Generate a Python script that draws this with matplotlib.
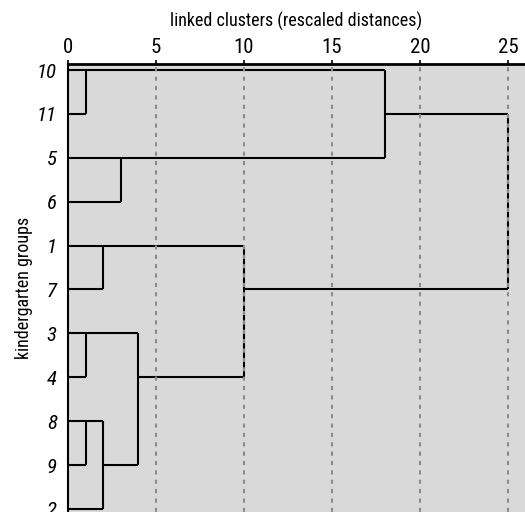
import matplotlib
matplotlib.use("Agg")
import matplotlib.pyplot as plt
import math

plt.rcParams['font.family'] = ['Roboto Condensed', 'Liberation Sans Narrow', 'Sofia Sans Condensed', 'DejaVu Sans']

# leaf order top to bottom
leaves = ['10', '11', '5', '6', '1', '7', '3', '4', '8', '9', '2']
# merges: (cluster a, cluster b, rescaled distance); 'cN' = result of merge N
merge_a = ['10', '8', '3', 'c1', '1', '5', 'c2', 'c4', 'c0', 'c8']
merge_b = ['11', '9', '4', '2', '7', '6', 'c3', 'c6', 'c5', 'c7']
merge_h = [1, 1, 1, 2, 2, 3, 4, 10, 18, 25]
x_ticks = [0, 5, 10, 15, 20, 25]

fig = plt.figure(figsize=(5.25, 5.12), dpi=100)
ax = fig.add_axes([68/525, 0.0, 1 - 68/525, 1 - 64/512])
ax.set_facecolor('#d9d9d9')

pos = {}
for i, lab in enumerate(leaves):
    pos[lab] = (i, 0.0)
for k in range(len(merge_h)):
    ya, xa = pos[merge_a[k]]
    yb, xb = pos[merge_b[k]]
    h = merge_h[k]
    ax.plot([xa, h], [ya, ya], color='black', lw=1.5, solid_capstyle='butt', zorder=2)
    ax.plot([xb, h], [yb, yb], color='black', lw=1.5, solid_capstyle='butt', zorder=2)
    ax.plot([h, h], [ya, yb], color='black', lw=1.5, solid_capstyle='butt', zorder=2)
    pos['c%d' % k] = (math.floor((ya + yb) / 2), h)

for t in x_ticks[1:]:
    ax.axvline(t, color='#8c8c8c', lw=1.5, ls=(0, (2, 2.5)), zorder=3)

ax.set_xlim(0, 25.97)
ax.set_ylim(10.07, -0.137)
ax.xaxis.tick_top()
ax.xaxis.set_label_position('top')
ax.set_xticks(x_ticks)
ax.set_xticklabels([str(t) for t in x_ticks], fontsize=15)
ax.tick_params(axis='x', length=3, width=1.2, pad=2)
ax.set_yticks(range(len(leaves)))
ax.set_yticklabels(leaves, fontsize=15, style='italic')
ax.tick_params(axis='y', length=0, pad=8)
ax.set_xlabel('linked clusters (rescaled distances)', fontsize=13, labelpad=8)
ax.set_ylabel('kindergarten groups', fontsize=13, labelpad=3)

for s in ['right', 'bottom']:
    ax.spines[s].set_visible(False)
ax.spines['top'].set_linewidth(2)
ax.spines['left'].set_linewidth(1.5)

plt.savefig('out.png', dpi=100)
